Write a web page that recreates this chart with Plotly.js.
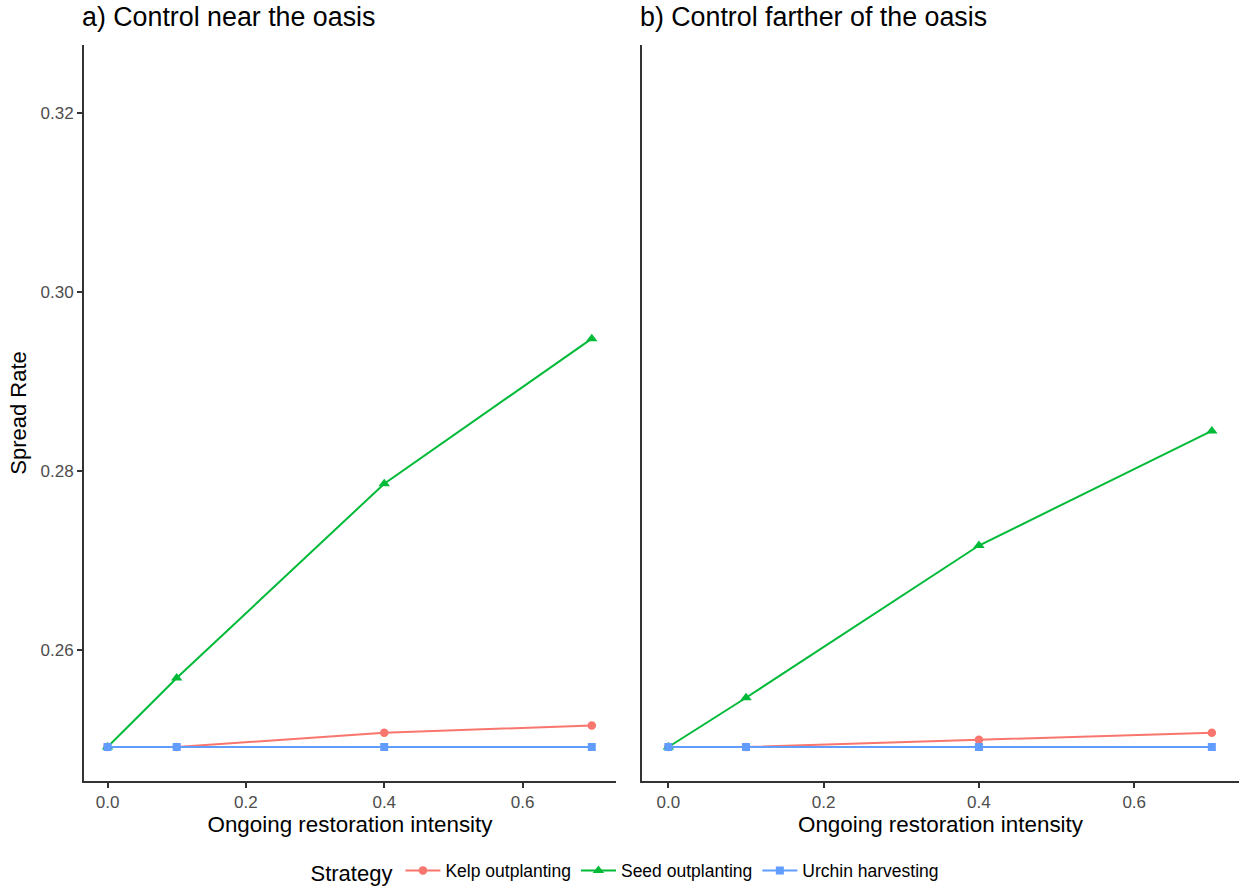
<!DOCTYPE html>
<html>
<head>
<meta charset="utf-8">
<script src="https://cdn.plot.ly/plotly-3.0.1.min.js"></script>
<style>
  html, body { margin: 0; padding: 0; background: #ffffff; }
  #chart { width: 1239px; height: 888px; }
</style>
</head>
<body>
<div id="chart"></div>
<script>
// Restoration intensity levels (shared by both panels)
const intensity = [0, 0.1, 0.4, 0.7];

// Panel a) control near the oasis
const nearKelp   = [0.2492, 0.2492, 0.2508, 0.2516];
const nearSeed   = [0.2492, 0.2569, 0.2786, 0.2948];
const nearUrchin = [0.2492, 0.2492, 0.2492, 0.2492];

// Panel b) control farther of the oasis
const farKelp   = [0.2492, 0.2492, 0.2500, 0.2508];
const farSeed   = [0.2492, 0.2547, 0.2717, 0.2845];
const farUrchin = [0.2492, 0.2492, 0.2492, 0.2492];

const strategies = ["Kelp outplanting", "Seed outplanting", "Urchin harvesting"];
const colors  = ["#F8766D", "#00BA38", "#619CFF"];
const symbols = ["circle", "triangle-up", "square"];
const sizes   = [8.5, 10, 8];

const panels = [
  { xa: "x",  ya: "y",  series: [nearKelp, nearSeed, nearUrchin], legend: true },
  { xa: "x2", ya: "y2", series: [farKelp,  farSeed,  farUrchin],  legend: false }
];

const traces = [];
panels.forEach(p => {
  p.series.forEach((vals, i) => {
    traces.push({
      type: "scatter",
      mode: "lines+markers",
      x: intensity,
      y: vals,
      xaxis: p.xa,
      yaxis: p.ya,
      name: strategies[i],
      legendgroup: strategies[i],
      showlegend: p.legend,
      line: { color: colors[i], width: 2 },
      marker: { color: colors[i], symbol: symbols[i], size: sizes[i] },
      hoverinfo: "x+y+name"
    });
  });
});

const W = 1239, H = 888;
const L = 84, R = 0, T = 45, B = 107;
const plotW = W - L - R;
const plotH = H - T - B;
const dom1 = [0, (616 - L) / plotW];
const dom2 = [(642 - L) / plotW, 1];

const fontFam = "Liberation Sans, Arial, Helvetica, sans-serif";
const xRange = [-0.034, 0.735];
const yRange = [0.2454, 0.3276];

function xAxis(domain, anchor) {
  return {
    domain: domain,
    anchor: anchor,
    range: xRange,
    tickvals: [0, 0.2, 0.4, 0.6],
    ticktext: ["0.0", "0.2", "0.4", "0.6"],
    showgrid: false,
    zeroline: false,
    showline: true,
    linecolor: "#333333",
    linewidth: 2,
    ticks: "outside",
    ticklen: 5,
    tickwidth: 1.5,
    tickcolor: "#333333",
    tickfont: { family: fontFam, size: 17, color: "#4D4D4D" },
    title: {
      text: "Ongoing restoration intensity",
      font: { family: fontFam, size: 22.4, color: "#000000" },
      standoff: 4
    },
    fixedrange: true
  };
}

const layout = {
  width: W,
  height: H,
  margin: { l: L, r: R, t: T, b: B, pad: 0 },
  paper_bgcolor: "#ffffff",
  plot_bgcolor: "#ffffff",
  font: { family: fontFam, color: "#000000" },
  xaxis: xAxis(dom1, "y"),
  xaxis2: xAxis(dom2, "y2"),
  yaxis: {
    domain: [0, 1],
    anchor: "x",
    range: yRange,
    tickvals: [0.26, 0.28, 0.30, 0.32],
    ticktext: ["0.26", "0.28", "0.30", "0.32"],
    showgrid: false,
    zeroline: false,
    showline: true,
    linecolor: "#333333",
    linewidth: 2,
    ticks: "outside",
    ticklen: 5,
    tickwidth: 1.5,
    tickcolor: "#333333",
    tickfont: { family: fontFam, size: 17, color: "#4D4D4D" },
    title: {
      text: "Spread Rate",
      font: { family: fontFam, size: 22, color: "#000000" },
      standoff: 8
    },
    fixedrange: true
  },
  yaxis2: {
    domain: [0, 1],
    anchor: "x2",
    range: yRange,
    showticklabels: false,
    ticks: "",
    showgrid: false,
    zeroline: false,
    showline: true,
    linecolor: "#333333",
    linewidth: 2,
    fixedrange: true
  },
  showlegend: true,
  legend: {
    orientation: "h",
    xref: "container",
    yref: "container",
    x: 626.5 / W,
    xanchor: "center",
    y: 16 / H,
    yanchor: "middle",
    font: { family: fontFam, size: 17.5, color: "#000000" },
    title: { text: "Strategy", font: { family: fontFam, size: 22, color: "#000000" }, side: "left" },
    itemwidth: 35,
    bgcolor: "rgba(0,0,0,0)"
  },
  annotations: [
    {
      text: "a) Control near the oasis",
      xref: "x domain", yref: "paper",
      x: 0, y: 1 + 28 / plotH,
      xanchor: "left", yanchor: "middle",
      xshift: -4,
      showarrow: false,
      font: { family: fontFam, size: 26.8, color: "#000000" }
    },
    {
      text: "b) Control farther of the oasis",
      xref: "x2 domain", yref: "paper",
      x: 0, y: 1 + 28 / plotH,
      xanchor: "left", yanchor: "middle",
      xshift: -4,
      showarrow: false,
      font: { family: fontFam, size: 26.8, color: "#000000" }
    }
  ]
};

Plotly.newPlot("chart", traces, layout, { displayModeBar: false });
</script>
</body>
</html>
